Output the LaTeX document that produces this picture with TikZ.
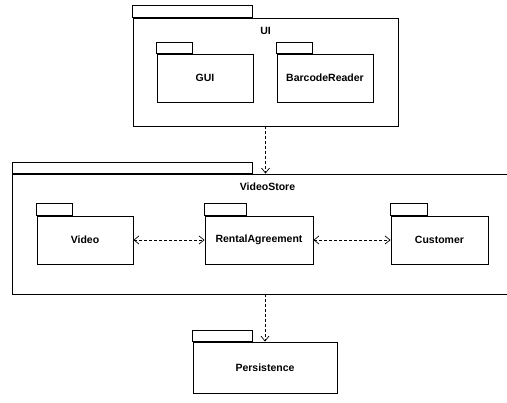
\documentclass[tikz,border=0pt]{standalone}
\usepackage{fontspec}
\setmainfont{Liberation Sans}
\usetikzlibrary{arrows.meta}
\tikzset{
  pkg/.style={draw, line width=0.8pt, inner sep=0pt, fill=white,
    font=\fontsize{10.5}{12}\selectfont\bfseries},
  pkgtitle/.style={anchor=base, inner sep=0pt, yshift=-17pt,
    font=\fontsize{10.5}{12}\selectfont\bfseries},
  tabbox/.style={draw, line width=0.8pt},
  tabline/.style={line width=1.6pt},
  dep/.style={dash pattern=on 3pt off 2pt, line width=0.7pt,
    -{Straight Barb[length=5pt,width=8pt,line width=0.7pt]}},
  mutual/.style={dep, {Straight Barb[length=5pt,width=8pt,line width=0.7pt]}-{Straight Barb[length=5pt,width=8pt,line width=0.7pt]}}
}
% draws the folder tab of a package above its body
\newcommand{\pkgtab}[3]{%
  \draw[tabbox] (#1.north west) rectangle ++(#2,-#3);
  \draw[tabline] (#1.north west) -- ++(#2,0);}
\begin{document}
\begin{tikzpicture}[x=1pt,y=-1pt]
  \clip (0,0) rectangle (507,403);
  \fill[white] (0,0) rectangle (507,403);

  % UI package with its two nested packages
  \node[pkg, minimum width=265pt, minimum height=108pt,
        label={[pkgtitle]north:UI}] (UI) at (265.5,72) {};
  \pkgtab{UI}{120}{12}
  \node[pkg, minimum width=96pt, minimum height=48pt] (GUI) at (205,78) {GUI};
  \pkgtab{GUI}{36}{11}
  \node[pkg, minimum width=96pt, minimum height=48pt] (BR) at (325,78) {BarcodeReader};
  \pkgtab{BR}{36}{11}

  % VideoStore package
  \node[pkg, minimum width=510pt, minimum height=120pt,
        label={[pkgtitle]north:VideoStore}] (VS) at (267.5,234) {};
  \pkgtab{VS}{240}{11}
  \node[pkg, minimum width=96pt, minimum height=48pt] (Video) at (85,240) {Video};
  \pkgtab{Video}{36}{12}
  \node[pkg, minimum width=108pt, minimum height=48pt] (RA) at (259,240) {RentalAgreement};
  \pkgtab{RA}{42}{12}
  \node[pkg, minimum width=97pt, minimum height=48pt] (Cust) at (439.5,240) {Customer};
  \pkgtab{Cust}{37}{12}

  % Persistence package
  \node[pkg, minimum width=144pt, minimum height=51pt] (Pers) at (265,367.5) {Persistence};
  \pkgtab{Pers}{60}{11}

  % dependencies
  \draw[dep] (UI.south) -- (UI.south |- VS.north);
  \draw[dep] (Pers.north |- VS.south) -- (Pers.north);
  \draw[mutual] (Video.east) -- (RA.west);
  \draw[mutual] (RA.east) -- (Cust.west);
\end{tikzpicture}
\end{document}
